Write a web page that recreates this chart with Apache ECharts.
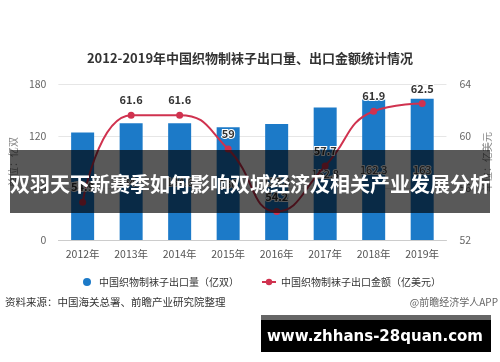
<!DOCTYPE html>
<html><head><meta charset="utf-8">
<script src="https://cdn.jsdelivr.net/npm/echarts@6/dist/echarts.min.js"></script>
<style>html,body{margin:0;padding:0;background:#fff}#c{width:500px;height:362px}</style>
</head><body><div id="c"></div>
<script>
const categories = ['2012年','2013年','2014年','2015年','2016年','2017年','2018年','2019年'];
const volume = [124, 134.6, 134.6, 130, 133.8, 152.8, 162.3, 163];
const amount = [54.9, 61.6, 61.6, 59, 54.2, 57.7, 61.9, 62.5];
const leftTicks = {min: 0, max: 180, interval: 60};
const rightTicks = {min: 52, max: 64, interval: 4};
const titleText = '2012-2019年中国织物制袜子出口量、出口金额统计情况';
const volName = '中国织物制袜子出口量（亿双）';
const amtName = '中国织物制袜子出口金额（亿美元）';
const sourceText = '资料来源：中国海关总署、前瞻产业研究院整理';
const creditText = '@前瞻经济学人APP';
const bannerText = '双羽天下新赛季如何影响双城经济及相关产业发展分析';
const urlText = 'www.zhhans-28quan.com';

const FONT = '"Noto Sans CJK SC", "Noto Sans", sans-serif';
const chart = echarts.init(document.getElementById('c'), null, {renderer: 'canvas'});
chart.setOption({
  animation: false,
  backgroundColor: '#fff',
  textStyle: {fontFamily: FONT},
  title: {text: titleText, left: 'center', top: 47,
    textStyle: {fontSize: 13, fontWeight: 'bold', color: '#333', fontFamily: FONT}},
  grid: {left: 54, right: 50, top: 84, bottom: 122},
  legend: {left: 78, top: 272, itemWidth: 14, itemHeight: 8, itemGap: 22,
    textStyle: {fontSize: 10, color: '#333', fontFamily: FONT},
    data: [{name: volName, icon: 'circle'}, {name: amtName}]},
  xAxis: {type: 'category', data: categories,
    axisLine: {lineStyle: {color: '#ccc'}}, axisTick: {show: false},
    axisLabel: {color: '#555', fontSize: 10.5, margin: 9}},
  yAxis: [
    {type: 'value', min: leftTicks.min, max: leftTicks.max, interval: leftTicks.interval,
     name: '单位：亿双', nameLocation: 'middle', nameGap: 34,
     nameTextStyle: {color: '#888', fontSize: 10},
     axisLabel: {color: '#666', fontSize: 10.5, margin: 12},
     splitLine: {lineStyle: {color: '#e6e6e6'}}, axisLine: {show: false}, axisTick: {show: false}},
    {type: 'value', min: rightTicks.min, max: rightTicks.max, interval: rightTicks.interval,
     name: '单位：亿美元', nameLocation: 'middle', nameGap: 30,
     nameTextStyle: {color: '#888', fontSize: 10},
     axisLabel: {color: '#666', fontSize: 10.5, margin: 13},
     splitLine: {show: false}, axisLine: {show: false}, axisTick: {show: false}}
  ],
  series: [
    {name: volName, type: 'bar', data: volume, barWidth: 23, yAxisIndex: 0,
     itemStyle: {color: '#1c7ac8'},
     label: {show: true, position: 'inside', color: '#333', fontSize: 11,
       textBorderColor: '#fff', textBorderWidth: 2}},
    {name: amtName, type: 'line', data: amount, yAxisIndex: 1, smooth: true,
     symbol: 'circle', symbolSize: 7,
     itemStyle: {color: '#d0324f'}, lineStyle: {color: '#d0324f', width: 2},
     label: {show: true, position: 'top', distance: 6, color: '#333', fontSize: 11, fontWeight: 'bold',
       textBorderColor: '#fff', textBorderWidth: 2}}
  ],
  graphic: [
    {type: 'text', left: 5, top: 297, style: {text: sourceText, fill: '#333', font: '10.5px ' + FONT}},
    {type: 'text', right: 2, top: 297, style: {text: creditText, fill: '#666', font: '10px ' + FONT}},
    {type: 'rect', shape: {x: 10, y: 150, width: 480, height: 63}, style: {fill: 'rgba(0,0,0,0.65)'}, z: 100},
    {type: 'text', x: 250, y: 184, z: 101,
     style: {text: bannerText, fill: '#fff', font: 'bold 20px ' + FONT, textAlign: 'center', textVerticalAlign: 'middle'}},
    {type: 'rect', shape: {x: 261, y: 315, width: 230, height: 5}, style: {fill: '#666'}, z: 100},
    {type: 'rect', shape: {x: 261, y: 320, width: 230, height: 32}, style: {fill: '#000'}, z: 100},
    {type: 'text', x: 375, y: 337, z: 101,
     style: {text: urlText, fill: '#fff', font: 'bold 15px "DejaVu Sans", sans-serif', textAlign: 'center', textVerticalAlign: 'middle'}}
  ]
});
</script></body></html>
